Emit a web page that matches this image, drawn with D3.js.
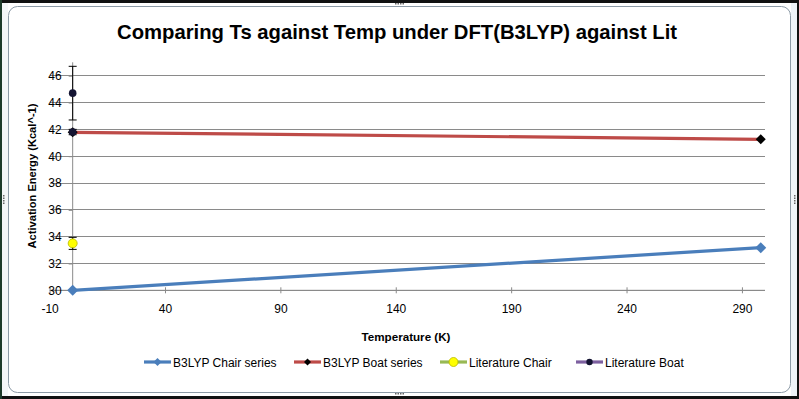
<!DOCTYPE html>
<html>
<head>
<meta charset="utf-8">
<script src="https://cdn.jsdelivr.net/npm/d3@7"></script>
<style>
  html, body { margin: 0; padding: 0; background: #fff; }
  svg { display: block; }
  text { font-family: "Liberation Sans", "DejaVu Sans", sans-serif; fill: #000; }
</style>
</head>
<body>
<svg id="chart" width="799" height="399"></svg>
<script>
// data
const chairTemp = [0, 298.15];
const chairEnergy = [30.0, 33.18];
const boatTemp = [0, 298.15];
const boatEnergy = [41.78, 41.26];
const litChairTemp = [0];
const litChairEnergy = [33.5];
const litChairErr = [0.45];
const litBoatTemp = [0, 0];
const litBoatEnergy = [44.7, 41.8];
const litBoatErr = [2.0, 0.2];
const xTicks = [-10, 40, 90, 140, 190, 240, 290];
const yTicks = [30, 32, 34, 36, 38, 40, 42, 44, 46];
const seriesNames = ["B3LYP Chair series", "B3LYP Boat series", "Literature Chair", "Literature Boat"];

const svg = d3.select("#chart");
const W = 799, H = 399;

// frame (spreadsheet edge + rounded chart border)
svg.append("rect").attr("width", W).attr("height", H).attr("fill", "#fff");
svg.append("rect").attr("x", 0).attr("y", 0).attr("width", W).attr("height", 3).attr("fill", "#111");
svg.append("rect").attr("x", 0).attr("y", 396).attr("width", W).attr("height", 3).attr("fill", "#111");
svg.append("rect").attr("x", 0).attr("y", 0).attr("width", 2).attr("height", H).attr("fill", "#1d3a2a");
svg.append("rect").attr("x", 797).attr("y", 0).attr("width", 2).attr("height", H).attr("fill", "#111");
svg.append("rect").attr("x", 791).attr("y", 3).attr("width", 6).attr("height", 393).attr("fill", "#eef3f8");
svg.append("rect").attr("x", 2).attr("y", 3).attr("width", 6).attr("height", 393).attr("fill", "#f4f6f8");
svg.append("rect")
    .attr("x", 8.5).attr("y", 6.5).attr("width", 782).attr("height", 386)
    .attr("rx", 9).attr("ry", 9)
    .attr("fill", "#fff").attr("stroke", "#8c9aa6").attr("stroke-width", 1);

// little resize handles
function handle(cx, cy, vertical) {
    for (let i = 0; i < 4; i++) {
        svg.append("rect")
            .attr("x", vertical ? cx : cx + i * 2.5)
            .attr("y", vertical ? cy + i * 2.5 : cy)
            .attr("width", 1.5).attr("height", 1.5).attr("fill", "#666");
    }
}
handle(395, 3, false);
handle(395, 393, false);
handle(3, 195, true);
handle(794, 195, true);

const margin = {left: 49.6, right: 765, top: 62.3, bottom: 290.3};

const x = d3.scaleLinear().domain([-10, 300]).range([margin.left, margin.right]);
const y = d3.scaleLinear().domain([30, 47]).range([margin.bottom, margin.top]);

// title
svg.append("text")
    .attr("x", 397).attr("y", 39)
    .attr("text-anchor", "middle")
    .attr("font-size", 21).attr("font-weight", "bold")
    .attr("textLength", 560).attr("lengthAdjust", "spacingAndGlyphs")
    .text("Comparing Ts against Temp under DFT(B3LYP) against Lit");

// gridlines
svg.append("g")
    .selectAll("line")
    .data(yTicks)
    .join("line")
    .attr("x1", margin.left).attr("x2", margin.right)
    .attr("y1", d => y(d)).attr("y2", d => y(d))
    .attr("stroke", "#8a8a8a").attr("stroke-width", 1)
    .attr("shape-rendering", "crispEdges");

// x axis on y = 30
const xAxis = svg.append("g")
    .attr("transform", "translate(0," + y(30) + ")")
    .call(d3.axisBottom(x).tickValues(xTicks).tickSize(4).tickPadding(10).tickFormat(d => String(d)));
xAxis.select(".domain").attr("stroke", "#8a8a8a").attr("d", "M" + margin.left + ",0H" + margin.right);
xAxis.selectAll(".tick line").attr("stroke", "#8a8a8a").attr("y1", -3).attr("y2", 3);
xAxis.selectAll(".tick text").attr("font-size", 12).attr("fill", "#000");

// y axis on x = 0
const yAxis = svg.append("g")
    .attr("transform", "translate(" + x(0) + ",0)")
    .call(d3.axisLeft(y).tickValues(yTicks).tickSize(4).tickPadding(7));
yAxis.select(".domain").attr("stroke", "#8a8a8a").attr("d", "M0," + margin.top + "V" + margin.bottom);
yAxis.selectAll(".tick line").attr("stroke", "#8a8a8a");
yAxis.selectAll(".tick text").attr("font-size", 12).attr("fill", "#000");

// axis titles
svg.append("text")
    .attr("transform", "translate(36,176) rotate(-90)")
    .attr("text-anchor", "middle")
    .attr("font-size", 11).attr("font-weight", "bold")
    .attr("textLength", 145).attr("lengthAdjust", "spacingAndGlyphs")
    .text("Activation Energy (Kcal^-1)");

svg.append("text")
    .attr("x", 406).attr("y", 341)
    .attr("text-anchor", "middle")
    .attr("font-size", 11).attr("font-weight", "bold")
    .attr("textLength", 89).attr("lengthAdjust", "spacingAndGlyphs")
    .text("Temperature (K)");

const line = d3.line().x(d => x(d[0])).y(d => y(d[1]));
// square diamond like Excel's marker
function diamondPath(r) {
    return "M0," + (-r) + "L" + r + ",0L0," + r + "L" + (-r) + ",0Z";
}

// B3LYP Chair
const chair = d3.zip(chairTemp, chairEnergy);
svg.append("path").datum(chair)
    .attr("d", line).attr("fill", "none")
    .attr("stroke", "#4a7ebb").attr("stroke-width", 3.2);
svg.append("g").selectAll("path").data(chair).join("path")
    .attr("transform", d => "translate(" + x(d[0]) + "," + y(d[1]) + ")")
    .attr("d", diamondPath(5.5)).attr("fill", "#4a7ebb");

// B3LYP Boat
const boat = d3.zip(boatTemp, boatEnergy);
svg.append("path").datum(boat)
    .attr("d", line).attr("fill", "none")
    .attr("stroke", "#be4b48").attr("stroke-width", 3.2);
svg.append("g").selectAll("path").data(boat).join("path")
    .attr("transform", d => "translate(" + x(d[0]) + "," + y(d[1]) + ")")
    .attr("d", diamondPath(5)).attr("fill", "#000");

// error bars
function errorBars(xs, ys, errs) {
    const g = svg.append("g").attr("stroke", "#000").attr("stroke-width", 1);
    const rows = d3.zip(xs, ys, errs);
    g.selectAll("line.v").data(rows).join("line").attr("class", "v")
        .attr("x1", d => x(d[0])).attr("x2", d => x(d[0]))
        .attr("y1", d => y(d[1] - d[2])).attr("y2", d => y(d[1] + d[2]));
    g.selectAll("line.t").data(rows).join("line").attr("class", "t")
        .attr("x1", d => x(d[0]) - 4).attr("x2", d => x(d[0]) + 4)
        .attr("y1", d => y(d[1] + d[2])).attr("y2", d => y(d[1] + d[2]));
    g.selectAll("line.b").data(rows).join("line").attr("class", "b")
        .attr("x1", d => x(d[0]) - 4).attr("x2", d => x(d[0]) + 4)
        .attr("y1", d => y(d[1] - d[2])).attr("y2", d => y(d[1] - d[2]));
}

// Literature Chair
errorBars(litChairTemp, litChairEnergy, litChairErr);
svg.append("g").selectAll("circle").data(d3.zip(litChairTemp, litChairEnergy)).join("circle")
    .attr("cx", d => x(d[0])).attr("cy", d => y(d[1])).attr("r", 4.5)
    .attr("fill", "#ffff00").attr("stroke", "#b8b800").attr("stroke-width", 0.8);

// Literature Boat
errorBars(litBoatTemp, litBoatEnergy, litBoatErr);
svg.append("g").selectAll("circle").data(d3.zip(litBoatTemp, litBoatEnergy)).join("circle")
    .attr("cx", d => x(d[0])).attr("cy", d => y(d[1])).attr("r", 3.8)
    .attr("fill", "#141432");

// legend
const legendItems = [
    {name: seriesNames[0], stroke: "#4a7ebb", marker: "diamond", fill: "#4a7ebb", x: 144},
    {name: seriesNames[1], stroke: "#be4b48", marker: "diamond", fill: "#000", x: 294},
    {name: seriesNames[2], stroke: "#98b954", marker: "circle", fill: "#ffff00", x: 440},
    {name: seriesNames[3], stroke: "#7d60a0", marker: "circle", fill: "#141432", x: 576}
];
const lg = svg.append("g").attr("transform", "translate(0,362)");
const item = lg.selectAll("g").data(legendItems).join("g")
    .attr("transform", d => "translate(" + d.x + ",0)");
item.append("line").attr("x1", 0).attr("x2", 27).attr("y1", 0).attr("y2", 0)
    .attr("stroke", d => d.stroke).attr("stroke-width", 3.2);
item.each(function(d) {
    const g = d3.select(this);
    if (d.marker === "diamond") {
        g.append("path").attr("transform", "translate(13.5,0)")
            .attr("d", diamondPath(d.fill === "#000" ? 3.5 : 4)).attr("fill", d.fill);
    } else {
        g.append("circle").attr("cx", 13.5).attr("cy", 0)
            .attr("r", d.fill === "#ffff00" ? 4.5 : 3.2).attr("fill", d.fill)
            .attr("stroke", d.fill === "#ffff00" ? "#b8b800" : "none").attr("stroke-width", 0.8);
    }
});
item.append("text").attr("x", 29).attr("y", 4.5)
    .attr("font-size", 12)
    .text(d => d.name);
</script>
</body>
</html>
